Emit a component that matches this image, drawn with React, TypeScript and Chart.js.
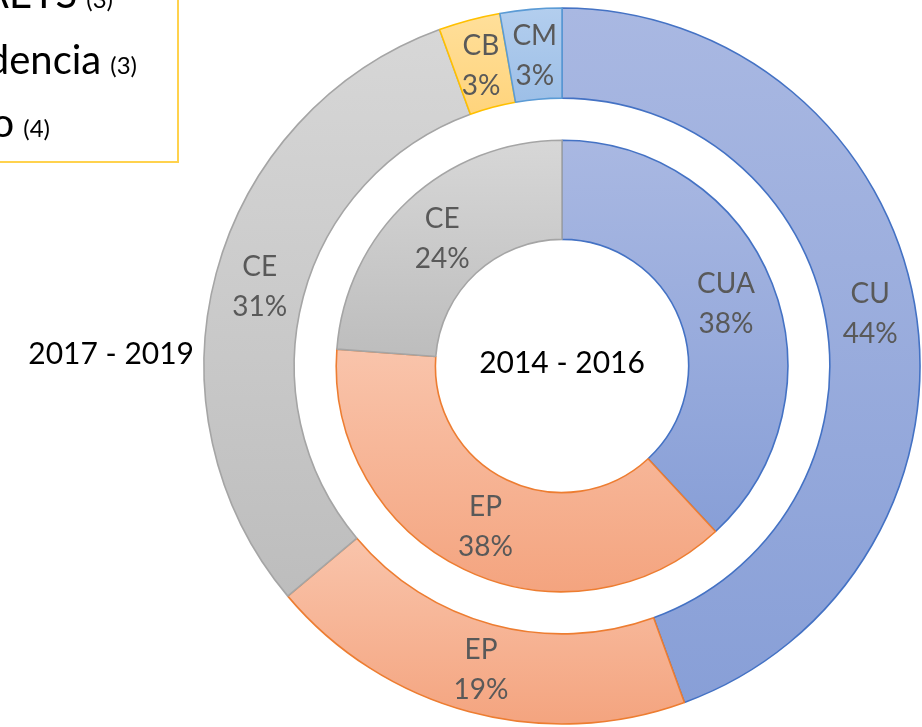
import React, { useEffect, useRef } from "react";
import { Chart, registerables } from "chart.js";

Chart.register(...registerables);

// ---------- data ----------
const outerLabels = ["CU", "EP", "CE", "CB", "CM"];
const outerValues = [16, 7, 11, 1, 1];
const outerColorKeys = ["blue", "orange", "gray", "gold", "sky"];

const innerLabels = ["CUA", "EP", "CE"];
const innerValues = [8, 8, 5];
const innerColorKeys = ["blue", "orange", "gray"];

const centerTitle = "2014 - 2016";
const outerTitle = "2017 - 2019";

const legendTexts = ["AETS", "dencia", "o"];
const legendCounts = ["(3)", "(3)", "(4)"];

// ---------- styles ----------
const palette: Record<string, { top: string; bottom: string; border: string }> = {
  blue: { top: "#A9B8E2", bottom: "#889FD7", border: "#4472C4" },
  orange: { top: "#F9C4AB", bottom: "#F4A47F", border: "#ED7D31" },
  gray: { top: "#D7D7D7", bottom: "#BDBDBD", border: "#A5A5A5" },
  gold: { top: "#FFDF9A", bottom: "#FFD47C", border: "#FFC000" },
  sky: { top: "#B3CEEE", bottom: "#9DBFE7", border: "#5B9BD5" },
};
const labelColor = "#595959";
const FONT = "Lato, 'Open Sans', sans-serif";
const legendRightEdges = [113, 137, 50];
const legendBaselines = [8, 74, 137];
const legendFontSize = 40;

function sliceGradient(ctx: any, keys: string[]) {
  const chart = ctx.chart;
  const area = chart.chartArea;
  const key = keys[ctx.dataIndex] || "gray";
  const col = palette[key];
  if (!area) return col.top;
  const meta = chart.getDatasetMeta(ctx.datasetIndex);
  const ctrl: any = meta.controller;
  const values = chart.data.datasets[ctx.datasetIndex].data as number[];
  const total = values.reduce((a: number, b: number) => a + b, 0);
  let before = 0;
  for (let k = 0; k < ctx.dataIndex; k++) before += values[k];
  const a0 = -Math.PI / 2 + (before / total) * 2 * Math.PI;
  const a1 = a0 + (values[ctx.dataIndex] / total) * 2 * Math.PI;
  const cy = (area.top + area.bottom) / 2;
  const rO = ctrl.outerRadius || 1;
  const rI = ctrl.innerRadius || 0;
  let minY = Infinity;
  let maxY = -Infinity;
  for (let s = 0; s <= 90; s++) {
    const a = a0 + ((a1 - a0) * s) / 90;
    for (const r of [rI, rO]) {
      const y = cy + r * Math.sin(a);
      if (y < minY) minY = y;
      if (y > maxY) maxY = y;
    }
  }
  if (!isFinite(minY) || maxY - minY < 1) return col.top;
  const g = chart.ctx.createLinearGradient(0, minY, 0, maxY);
  g.addColorStop(0, col.top);
  g.addColorStop(1, col.bottom);
  return g;
}

const labelPlugin = {
  id: "ringLabels",
  afterDatasetsDraw(chart: any) {
    const c = chart.ctx;
    const sets = [
      { idx: 0, labels: outerLabels },
      { idx: 2, labels: innerLabels },
    ];
    c.save();
    c.font = `28px ${FONT}`;
    c.fillStyle = labelColor;
    c.textAlign = "center";
    c.textBaseline = "alphabetic";
    for (const s of sets) {
      const meta = chart.getDatasetMeta(s.idx);
      const values = chart.data.datasets[s.idx].data as number[];
      const total = values.reduce((a: number, b: number) => a + b, 0);
      meta.data.forEach((arc: any, i: number) => {
        const p = arc.tooltipPosition();
        const pct = Math.round((values[i] / total) * 100) + "%";
        c.fillText(s.labels[i], p.x, p.y - 9);
        c.fillText(pct, p.x, p.y + 31);
      });
    }
    const first: any = chart.getDatasetMeta(0).data[0];
    if (first) {
      const cx = first.x;
      const cy = first.y;
      c.fillStyle = "#000000";
      c.font = `30px ${FONT}`;
      c.textAlign = "center";
      c.fillText(centerTitle, cx, cy + 7);
      c.textAlign = "right";
      c.fillText(outerTitle, cx - first.outerRadius - 10, cy - 2);
    }
    c.restore();
  },
};

export default function App() {
  const canvasRef = useRef<HTMLCanvasElement | null>(null);

  useEffect(() => {
    const canvas = canvasRef.current;
    if (!canvas) return;
    const chart = new Chart(canvas, {
      type: "doughnut",
      data: {
        labels: outerLabels,
        datasets: [
          {
            label: outerTitle,
            data: outerValues,
            weight: 90,
            backgroundColor: (ctx: any) => sliceGradient(ctx, outerColorKeys),
            borderColor: outerColorKeys.map((k) => palette[k].border),
            borderWidth: 1.6,
          } as any,
          {
            label: "gap",
            data: [1],
            weight: 42,
            backgroundColor: "rgba(0,0,0,0)",
            borderWidth: 0,
          } as any,
          {
            label: centerTitle,
            data: innerValues,
            weight: 99,
            backgroundColor: (ctx: any) => sliceGradient(ctx, innerColorKeys),
            borderColor: innerColorKeys.map((k) => palette[k].border),
            borderWidth: 1.6,
          } as any,
        ],
      },
      options: {
        animation: false,
        responsive: true,
        maintainAspectRatio: false,
        radius: 358,
        cutout: 127,
        layout: { padding: { left: 202, top: 5, right: 0, bottom: 0 } },
        plugins: {
          legend: { display: false },
          tooltip: { enabled: false },
        },
        events: [],
      } as any,
      plugins: [labelPlugin],
    });
    chart.update();
    return () => chart.destroy();
  }, []);

  return (
    <div
      style={{
        position: "fixed",
        left: 0,
        top: 0,
        width: 922,
        height: 727,
        overflow: "hidden",
        background: "#ffffff",
        fontFamily: FONT,
      }}
    >
      <div style={{ position: "absolute", left: 0, top: 0, width: 922, height: 727 }}>
        <canvas ref={canvasRef} />
      </div>
      <div
        style={{
          position: "absolute",
          left: -100,
          top: -100,
          width: 279,
          height: 263,
          boxSizing: "border-box",
          border: "2px solid #FFD24D",
          background: "transparent",
        }}
      />
      {legendTexts.map((t, i) => (
        <div
          key={i}
          style={{
            position: "absolute",
            right: 922 - legendRightEdges[i],
            top: legendBaselines[i] - Math.round(legendFontSize * 0.887),
            fontSize: legendFontSize,
            lineHeight: `${legendFontSize}px`,
            whiteSpace: "nowrap",
            color: "#000000",
          }}
        >
          {t}
          <span style={{ fontSize: 24, marginLeft: 9 }}>{legendCounts[i]}</span>
        </div>
      ))}
    </div>
  );
}
